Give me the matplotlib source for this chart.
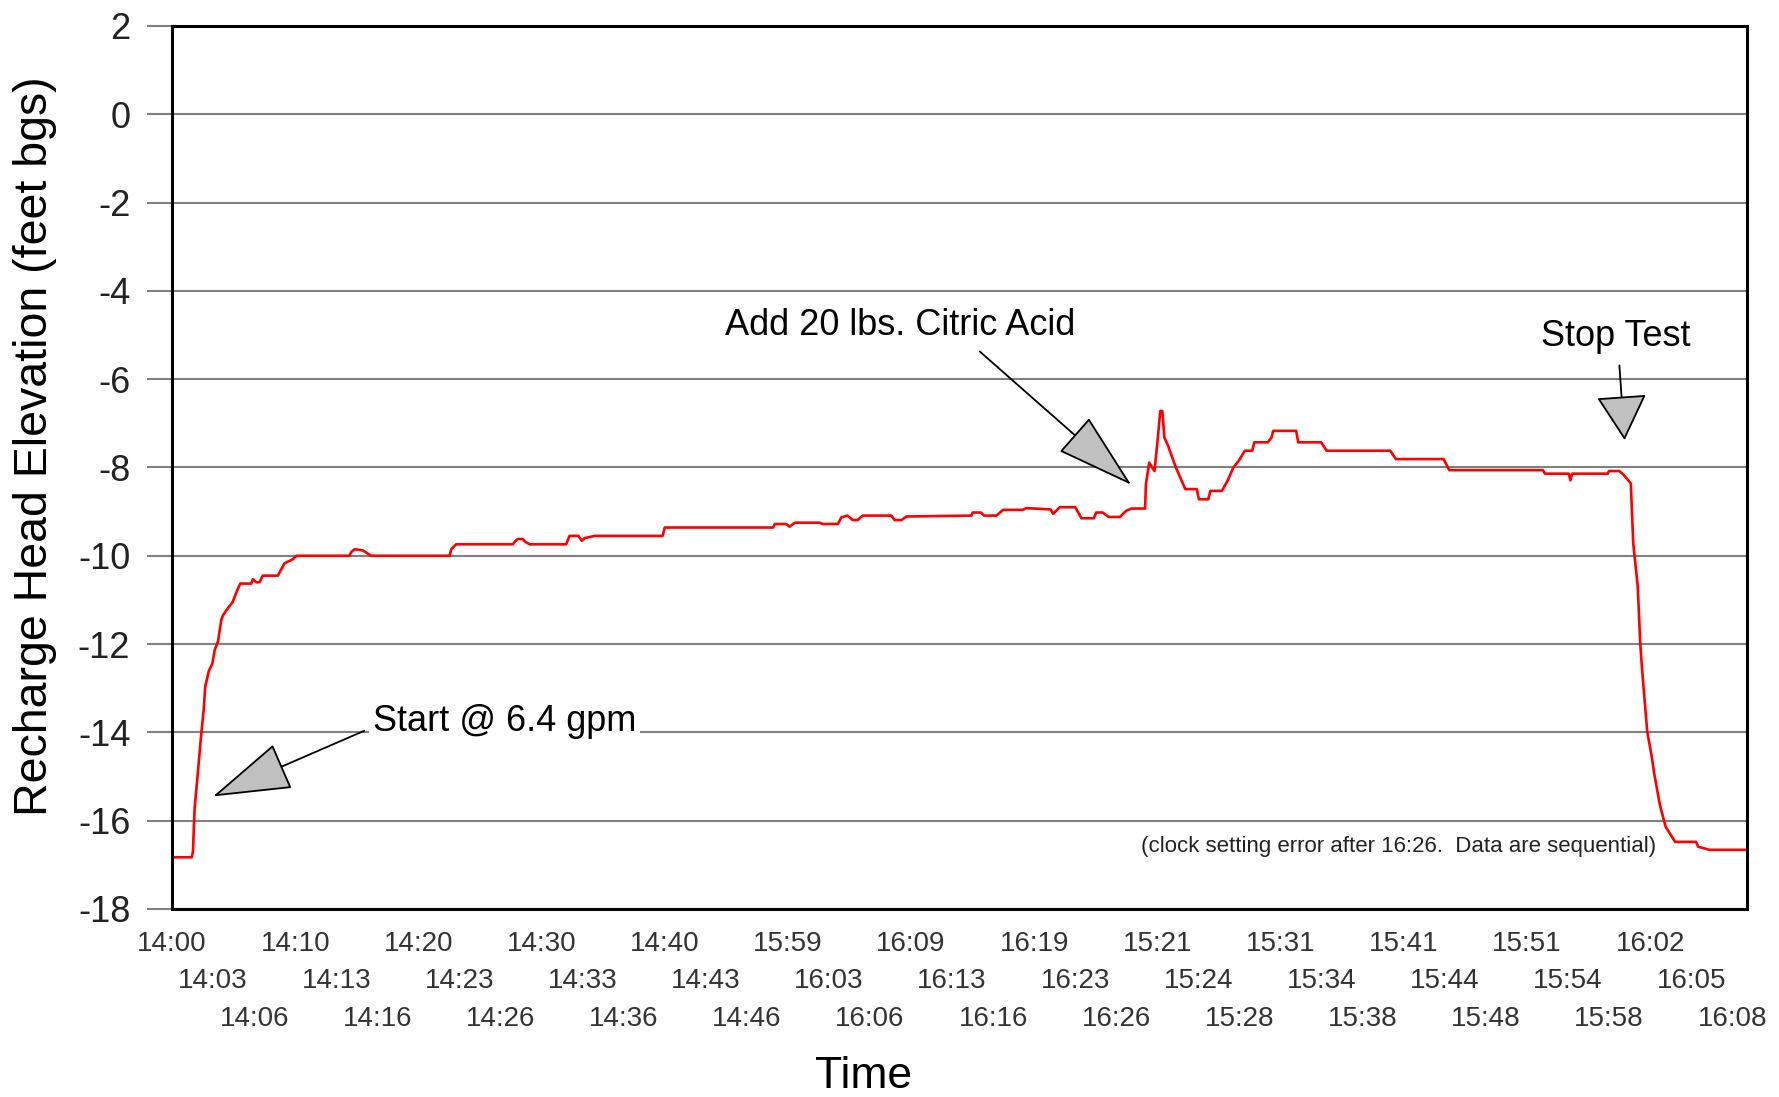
import matplotlib
matplotlib.use("Agg")
import matplotlib.pyplot as plt
import matplotlib.transforms as mtrans

plt.rcParams['font.family'] = ['Liberation Sans', 'DejaVu Sans']
plt.rcParams['axes.unicode_minus'] = False

# x tick labels (clock times, shown in three staggered rows)
time_labels = ['14:00', '14:03', '14:06', '14:10', '14:13', '14:16', '14:20', '14:23', '14:26',
               '14:30', '14:33', '14:36', '14:40', '14:43', '14:46', '15:59', '16:03', '16:06',
               '16:09', '16:13', '16:16', '16:19', '16:23', '16:26', '15:21', '15:24', '15:28',
               '15:31', '15:34', '15:38', '15:41', '15:44', '15:48', '15:51', '15:54', '15:58',
               '16:02', '16:05', '16:08']

# recharge head (x in label-slot units)
pos = [0.00, 0.48, 0.51, 0.55, 0.63, 0.71, 0.77, 0.81, 0.90, 0.98, 1.04, 1.12, 1.20, 1.24,
       1.38, 1.47, 1.58, 1.66, 1.93, 1.97, 2.05, 2.13, 2.21, 2.58, 2.64, 2.74, 2.94, 3.03,
       4.32, 4.37, 4.45, 4.65, 4.85, 6.76, 6.80, 6.92, 8.30, 8.35, 8.42, 8.54, 8.60, 8.71,
       9.60, 9.68, 9.90, 9.98, 10.05, 10.29, 11.95, 12.00, 14.64, 14.68, 14.96, 15.04, 15.17,
       15.77, 15.85, 16.22, 16.30, 16.45, 16.58, 16.70, 16.82, 17.52, 17.60, 17.77, 17.89,
       19.47, 19.50, 19.70, 19.78, 20.08, 20.24, 20.72, 20.81, 21.40, 21.46, 21.62, 22.00,
       22.15, 22.45, 22.51, 22.67, 22.81, 23.09, 23.24, 23.37, 23.70, 23.72, 23.80, 23.93,
       24.00, 24.07, 24.12, 24.17, 24.26, 24.45, 24.68, 24.96, 25.01, 25.24, 25.29, 25.57,
       25.71, 25.85, 25.98, 26.13, 26.31, 26.36, 26.69, 26.78, 26.82, 27.38, 27.43, 27.99,
       28.12, 29.67, 29.81, 30.97, 31.11, 33.39, 33.44, 34.02, 34.06, 34.10, 34.97, 35.00,
       35.25, 35.36, 35.53, 35.59, 35.70, 35.76, 35.81, 35.93, 36.04, 36.10, 36.24, 36.38,
       36.61, 37.12, 37.17, 37.45, 38.36]
head = [-16.83, -16.83, -16.70, -15.72, -14.90, -14.05, -13.50, -12.95, -12.60, -12.45,
        -12.13, -11.94, -11.45, -11.35, -11.16, -11.06, -10.80, -10.63, -10.63, -10.53,
        -10.60, -10.60, -10.45, -10.45, -10.34, -10.17, -10.08, -10.00, -10.00, -9.91, -9.85,
        -9.88, -10.00, -10.00, -9.85, -9.74, -9.74, -9.68, -9.62, -9.62, -9.68, -9.74, -9.74,
        -9.55, -9.55, -9.66, -9.60, -9.55, -9.55, -9.36, -9.36, -9.28, -9.28, -9.34, -9.25,
        -9.25, -9.28, -9.28, -9.13, -9.09, -9.19, -9.19, -9.09, -9.09, -9.19, -9.19, -9.11,
        -9.09, -9.02, -9.02, -9.09, -9.09, -8.96, -8.96, -8.92, -8.95, -9.05, -8.90, -8.90,
        -9.15, -9.15, -9.02, -9.02, -9.12, -9.12, -8.98, -8.93, -8.93, -8.38, -7.89, -8.08,
        -7.43, -6.72, -6.72, -7.32, -7.51, -8.00, -8.49, -8.49, -8.72, -8.72, -8.53, -8.53,
        -8.30, -8.00, -7.85, -7.62, -7.62, -7.43, -7.43, -7.32, -7.17, -7.17, -7.43, -7.43,
        -7.62, -7.62, -7.81, -7.81, -8.06, -8.06, -8.14, -8.14, -8.29, -8.14, -8.14, -8.08,
        -8.08, -8.17, -8.36, -9.72, -10.70, -11.98, -12.63, -13.98, -14.55, -14.93, -15.65,
        -16.14, -16.48, -16.48, -16.59, -16.66, -16.66]

fig = plt.figure(figsize=(17.79, 10.97), dpi=100)
ax = fig.add_axes([0.0967, 0.1714, 0.8853, 0.8049])

ax.plot(pos, head, color='#ff0000', lw=1.9)

ax.set_xlim(0, 38.36)
ax.set_ylim(-18, 2)
ax.set_yticks(range(-18, 3, 2))
ax.grid(axis='y', color='#808080', lw=1.5)
ax.set_axisbelow(True)
for s in ax.spines.values():
    s.set_color('black')
    s.set_linewidth(2.2)
ax.tick_params(axis='y', length=18, width=1.5, color='#808080', pad=12, labelsize=26,
               labelcolor='#222222')

# staggered x labels in three rows below the axis
ax.set_xticks(range(len(time_labels)))
ax.tick_params(axis='x', length=0, labelbottom=False)
row_off = [25.5, 52.0, 79.0]  # points below the axis
for i, t in enumerate(time_labels):
    off = mtrans.ScaledTranslation(0, -row_off[i % 3] / 72, fig.dpi_scale_trans)
    ax.text(i, 0, t, transform=ax.get_xaxis_transform() + off, ha='center', va='center',
            fontsize=20, color='#333333')

ax.set_xlabel('Time', fontsize=32, va='center')
ax.xaxis.set_label_coords(0.439, -0.19)
ax.set_ylabel('Recharge Head Elevation (feet bgs)', fontsize=33.5, va='center')
ax.yaxis.set_label_coords(-0.087, 0.524)

arrow = dict(fc='#c0c0c0', ec='black', lw=1.3, shrinkB=0, mutation_scale=20)
ax.annotate('Add 20 lbs. Citric Acid', xy=(23.36, -8.39), xytext=(17.74, -4.79),
            fontsize=26, ha='center', va='center',
            arrowprops=dict(arrowstyle='-|>,head_length=2.57,head_width=0.75',
                            relpos=(0.7, 0.0), shrinkA=6, **arrow))
ax.annotate('Start @ 6.4 gpm', xy=(1.0, -15.45), xytext=(8.1, -13.76),
            fontsize=26, ha='center', va='center',
            bbox=dict(boxstyle='square,pad=0.1', fc='white', ec='none'),
            arrowprops=dict(arrowstyle='-|>,head_length=2.57,head_width=0.8',
                            relpos=(0.0, 0.35), shrinkA=4, **arrow))
ax.annotate('Stop Test', xy=(35.38, -7.38), xytext=(35.16, -5.04),
            fontsize=26, ha='center', va='center',
            arrowprops=dict(arrowstyle='-|>,head_length=1.47,head_width=0.82',
                            relpos=(0.52, 0.0), shrinkA=6, **arrow))

ax.text(29.88, -16.59, '(clock setting error after 16:26.  Data are sequential)',
        fontsize=16, color='#222222', ha='center', va='center')

fig.savefig('out.png', dpi=100)
